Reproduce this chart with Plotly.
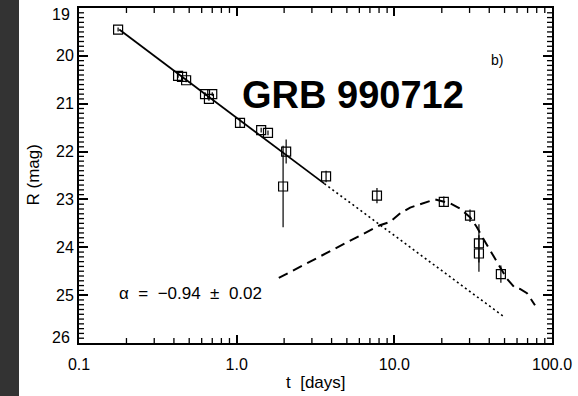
import math
import plotly.graph_objects as go

# Observed R-band photometry of GRB 990712
obs_t = [0.177, 0.425, 0.45, 0.478, 0.63, 0.667, 0.70, 1.05, 1.43, 1.58,
         2.06, 1.97, 3.69, 7.76, 20.6, 30.2, 34.4, 34.4, 47.4]
obs_mag = [19.45, 20.42, 20.44, 20.51, 20.80, 20.90, 20.80, 21.40, 21.55, 21.61,
           22.00, 22.73, 22.52, 22.92, 23.05, 23.34, 23.92, 24.13, 24.56]
obs_err = [0.04, 0.04, 0.04, 0.04, 0.04, 0.04, 0.04, 0.10, 0.05, 0.05,
           0.25, 0.85, 0.12, 0.16, 0.11, 0.13, 0.40, 0.38, 0.18]

# Power-law fit (solid where fitted, dotted extrapolation)
fit_t = [0.18, 3.6]
fit_mag = [19.45, 22.67]
extrap_t = [3.6, 50.0]
extrap_mag = [22.67, 25.46]

# Supernova + host model curve (dashed)
sn_t = [1.85, 8.1, 9.4, 10.9, 12.6, 15.2, 18.1, 22.5, 26.1, 30.2, 33.4, 36.5,
        40.4, 44.8, 51.8, 58.2, 62.7, 69.4, 78.0]
sn_mag = [24.64, 23.54, 23.47, 23.29, 23.17, 23.08, 23.00, 23.08, 23.19, 23.37,
          23.58, 23.81, 24.06, 24.31, 24.66, 24.85, 24.87, 24.96, 25.21]

x_tickvals = [0.1, 1, 10, 100]
x_ticktext = ["0.1", "1.0", "10.0", "100.0"]
y_tickvals = [19, 20, 21, 22, 23, 24, 25, 26]
y_ticktext = ["", "20", "21", "22", "23", "24", "25", ""]

FONT = "Liberation Sans, Arial, sans-serif"

fig = go.Figure()
fig.add_trace(go.Scatter(x=extrap_t, y=extrap_mag, mode="lines",
                         line=dict(color="black", width=1.6, dash="2px,3px"),
                         showlegend=False, hoverinfo="skip"))
fig.add_trace(go.Scatter(x=fit_t, y=fit_mag, mode="lines",
                         line=dict(color="black", width=1.8),
                         showlegend=False, hoverinfo="skip"))
fig.add_trace(go.Scatter(x=sn_t, y=sn_mag, mode="lines",
                         line=dict(color="black", width=2, dash="10px,6px"),
                         showlegend=False, hoverinfo="skip"))
fig.add_trace(go.Scatter(x=obs_t, y=obs_mag, mode="markers",
                         marker=dict(symbol="square-open", size=9, color="black",
                                     line=dict(width=1.2, color="black")),
                         error_y=dict(type="data", array=obs_err, visible=True,
                                      color="black", thickness=1.2, width=0),
                         showlegend=False))

W, H = 578, 396
L, R, T, B = 79, 26, 6, 53
pw, ph = W - L - R, H - T - B

def px(x):
    return (x - L) / pw

def py(y):
    return 1 - (y - T) / ph

fig.update_xaxes(type="log", range=[-1, 2], tickmode="array",
                 tickvals=x_tickvals, ticktext=x_ticktext,
                 ticks="inside", ticklen=8, tickwidth=1.5, tickcolor="black",
                 showline=True, linecolor="black", linewidth=2, mirror="ticks",
                 showgrid=False, zeroline=False,
                 tickfont=dict(family=FONT, size=16, color="black"),
                 ticklabelstandoff=6)
fig.update_yaxes(range=[26, 19], tickmode="array",
                 tickvals=y_tickvals, ticktext=y_ticktext,
                 ticks="inside", ticklen=9, tickwidth=1.5, tickcolor="black",
                 showline=True, linecolor="black", linewidth=2, mirror="ticks",
                 showgrid=False, zeroline=False,
                 tickfont=dict(family=FONT, size=16, color="black"))

# minor ticks (IDL style, inside on all four sides), lengths in paper units
MINOR_LEN = 5
lx = MINOR_LEN / pw
ly = MINOR_LEN / ph
shapes = [dict(type="rect", xref="paper", yref="paper",
               x0=px(0), x1=px(19), y0=py(H + 5), y1=py(-5),
               fillcolor="#333333", line=dict(width=0), layer="below")]
tick_line = dict(color="black", width=1.3)
x_range_log = (-1.0, 2.0)
for dec in (0.1, 1, 10):
    for k in range(2, 10):
        fx = (math.log10(dec * k) - x_range_log[0]) / (x_range_log[1] - x_range_log[0])
        shapes.append(dict(type="line", xref="paper", yref="paper", x0=fx, x1=fx,
                           y0=0, y1=ly, line=tick_line))
        shapes.append(dict(type="line", xref="paper", yref="paper", x0=fx, x1=fx,
                           y0=1 - ly, y1=1, line=tick_line))
for i in range(71):
    if i % 10 == 0:
        continue
    fy = 1 - i / 70
    shapes.append(dict(type="line", xref="paper", yref="paper", y0=fy, y1=fy,
                       x0=0, x1=lx, line=tick_line))
    shapes.append(dict(type="line", xref="paper", yref="paper", y0=fy, y1=fy,
                       x0=1 - lx, x1=1, line=tick_line))

annotations = [
    dict(text="19", x=0, y=19, xref="paper", yref="y", xanchor="right", yanchor="middle",
         xshift=-7, yshift=-6, showarrow=False, font=dict(family=FONT, size=16, color="black")),
    dict(text="26", x=0, y=26, xref="paper", yref="y", xanchor="right", yanchor="middle",
         xshift=-7, yshift=6, showarrow=False, font=dict(family=FONT, size=16, color="black")),
    dict(text="R (mag)", x=px(33), y=0.5, xref="paper", yref="paper", textangle=-90,
         xanchor="center", yanchor="middle", showarrow=False,
         font=dict(family=FONT, size=17, color="black")),
    dict(text="t  [days]", x=0.5, y=py(383), xref="paper", yref="paper",
         xanchor="center", yanchor="middle", showarrow=False,
         font=dict(family=FONT, size=17, color="black")),
    dict(text="<b>GRB 990712</b>", x=px(353), y=py(94), xref="paper", yref="paper",
         xanchor="center", yanchor="middle", showarrow=False,
         font=dict(family=FONT, size=38, color="black")),
    dict(text="b)", x=px(497), y=py(58), xref="paper", yref="paper",
         xanchor="center", yanchor="middle", showarrow=False,
         font=dict(family=FONT, size=14, color="black")),
    dict(text="\u03b1\u00a0\u00a0=\u00a0\u00a0\u22120.94\u00a0\u00a0\u00b1\u00a0\u00a00.02",
         x=px(190), y=py(293), xref="paper", yref="paper",
         xanchor="center", yanchor="middle", showarrow=False,
         font=dict(family=FONT, size=17, color="black")),
]

fig.update_layout(
    width=W, height=H,
    margin=dict(l=L, r=R, t=T, b=B),
    paper_bgcolor="white", plot_bgcolor="white",
    annotations=annotations,
    shapes=shapes,
)

fig.write_html("out.html", config={"displayModeBar": False},
               post_script="document.body.style.margin='0';document.body.style.overflow='hidden';")
